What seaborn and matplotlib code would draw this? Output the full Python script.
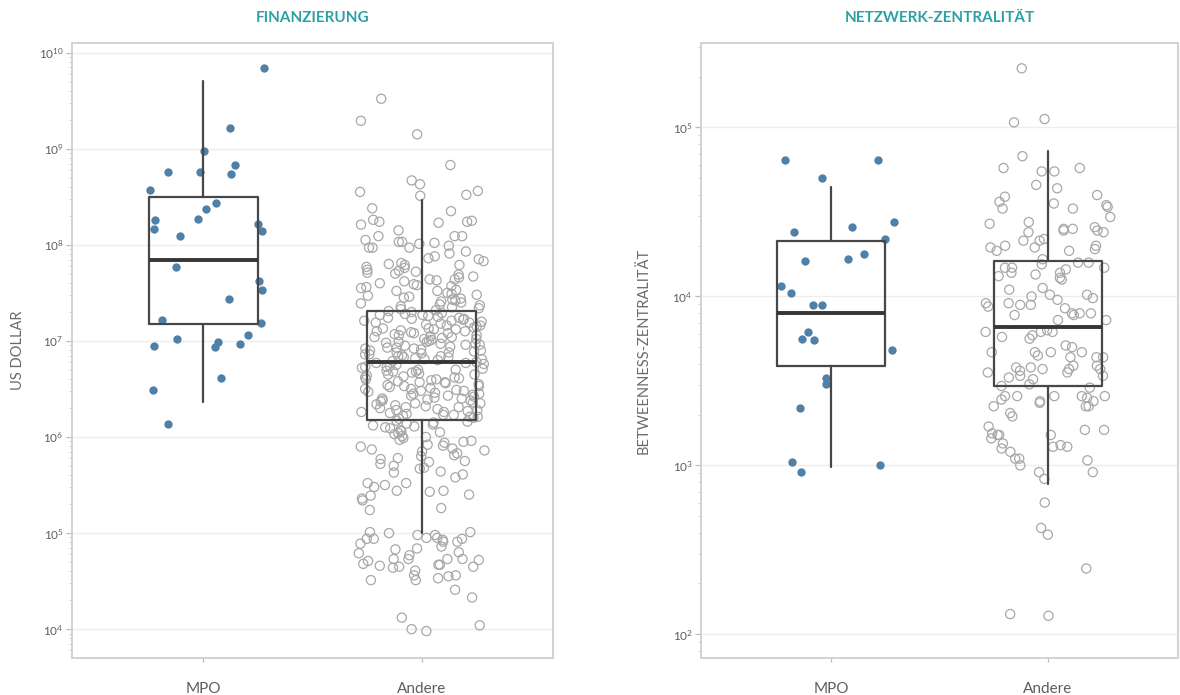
import numpy as np
import pandas as pd
import matplotlib
matplotlib.use("Agg")
import matplotlib.pyplot as plt
from matplotlib.ticker import FixedLocator
import seaborn as sns

# ---------------------------------------------------------------------------
# Data (all values as log10 of the plotted quantity)
# ---------------------------------------------------------------------------
groups = ["MPO", "Andere"]

# Funding in US dollars
finance_mpo_log10 = [
    9.84, 9.22, 8.98, 8.83, 8.76, 8.74, 8.76, 8.57, 8.44, 8.37, 8.27, 8.26,
    8.22, 8.16, 8.14, 8.09, 7.77, 7.62, 7.53, 7.44, 7.19, 7.22, 7.06, 6.99,
    7.02, 6.94, 6.95, 6.97, 6.61, 6.49, 6.14,
]
finance_other_log10 = [
    # upper tail
    9.52, 9.29, 9.15, 8.83, 8.67, 8.63, 8.55, 8.51, 8.56, 8.52, 8.35, 8.38,
    8.25, 8.24, 8.24, 8.23, 8.21, 8.26, 8.15, 8.09, 8.09, 8.09, 8.03, 8.03,
    7.97, 7.97, 7.99, 8.02, 8.05, 8.01, 7.97, 7.93, 7.91,
    # above upper quartile
    7.88, 7.86, 7.85, 7.83, 7.81, 7.80, 7.79, 7.77, 7.76, 7.74, 7.73, 7.71,
    7.70, 7.69, 7.67, 7.66, 7.64, 7.63, 7.62, 7.60, 7.59, 7.57, 7.56, 7.55,
    7.53, 7.52, 7.50, 7.49, 7.48, 7.46, 7.45, 7.44, 7.42, 7.41, 7.40, 7.38,
    7.37, 7.36, 7.35, 7.34, 7.33, 7.32, 7.79, 7.58, 7.47, 7.39, 7.64, 7.72,
    7.52, 7.43,
    # upper quartile to median
    7.30, 7.28, 7.27, 7.24, 7.23, 7.21, 7.19, 7.18, 7.16, 7.13, 7.12, 7.11,
    7.08, 7.06, 7.05, 7.03, 7.01, 6.99, 6.98, 6.96, 6.93, 6.92, 6.90, 6.88,
    6.86, 6.85, 6.83, 6.81, 6.80, 6.79, 7.29, 7.25, 7.22, 7.17, 7.14, 7.09,
    7.07, 7.02, 6.97, 6.94, 6.91, 6.87, 6.84, 6.82, 7.26, 7.20, 7.15, 7.10,
    7.04, 7.00, 6.95, 6.89, 6.84, 6.78, 7.31, 7.23, 7.16, 7.12, 7.06, 6.99,
    6.93, 6.88, 6.81, 7.27, 7.19, 7.10, 7.02, 6.96, 6.90, 6.83, 7.21, 7.13,
    7.04, 6.97, 6.86, 7.24, 7.08, 6.92,
    # median to lower quartile
    6.77, 6.76, 6.74, 6.73, 6.71, 6.70, 6.68, 6.66, 6.65, 6.63, 6.62, 6.60,
    6.58, 6.57, 6.55, 6.53, 6.52, 6.50, 6.48, 6.47, 6.45, 6.43, 6.42, 6.40,
    6.38, 6.37, 6.35, 6.33, 6.31, 6.30, 6.28, 6.26, 6.25, 6.23, 6.21, 6.19,
    6.75, 6.72, 6.67, 6.64, 6.59, 6.56, 6.51, 6.46, 6.41, 6.36, 6.32, 6.27,
    6.22, 6.77, 6.69, 6.61, 6.54, 6.49, 6.44, 6.39, 6.34, 6.29, 6.24, 6.20,
    6.73, 6.65, 6.57, 6.48, 6.40, 6.31, 6.23, 6.70, 6.60, 6.50, 6.43, 6.35,
    6.26, 6.68, 6.53, 6.38, 6.21, 6.62, 6.45, 6.28,
    # below lower quartile
    6.17, 6.15, 6.13, 6.11, 6.09, 6.07, 6.05, 6.03, 6.01, 5.99, 5.97, 5.95,
    5.92, 5.90, 5.88, 5.85, 5.83, 5.80, 5.78, 5.75, 5.72, 5.70, 5.67, 6.16,
    6.12, 6.06, 6.00, 5.94, 5.87, 5.81, 5.74, 5.68, 6.14, 6.04, 5.96, 5.86,
    5.77, 6.10, 5.91,
    # lower tail
    5.58, 5.61, 5.44, 5.50, 5.52, 5.52, 5.43, 5.40, 5.34, 5.24, 5.26, 5.44,
    5.48, 5.39, 5.36, 5.64, 5.63, 5.00, 4.93, 4.94, 4.95, 5.01, 4.94, 4.91,
    4.80, 4.84, 4.77, 4.73, 4.71, 4.73, 4.65, 4.72, 4.68, 4.79, 4.56, 4.51,
    4.41, 4.67, 4.61, 4.55, 4.98, 4.89, 4.98, 5.01, 4.91, 4.86, 4.95, 4.94,
    4.83, 4.73, 4.67, 4.73, 4.65, 4.66, 4.64, 4.56, 4.51, 4.53, 4.33, 4.12,
    4.04, 4.00, 3.98,
]

# Betweenness centrality
central_mpo_log10 = [
    4.81, 4.81, 4.70, 4.44, 4.41, 4.38, 4.34, 4.21, 4.22, 4.25, 4.06, 4.02,
    3.95, 3.95, 3.79, 3.75, 3.74, 3.68, 3.52, 3.48, 3.34, 3.02, 2.96, 3.00,
]
central_other_log10 = [
    5.35, 5.05, 5.03, 4.83, 4.74, 4.76, 4.76, 4.74, 4.66, 4.64, 4.59, 4.60,
    4.56, 4.55, 4.54, 4.52, 4.52, 4.53, 4.47, 4.44, 4.40, 4.38, 4.39, 4.41,
    4.40, 4.43, 4.38, 4.39, 4.34, 4.33, 4.33, 4.30, 4.27, 4.29, 4.30, 4.29,
    4.28, 4.27, 4.20, 4.22, 4.20, 4.19, 4.17, 4.17, 4.16, 4.17, 4.14, 4.14,
    4.13, 4.11, 4.10, 4.12, 4.04, 4.05, 4.01, 3.99, 3.98, 4.01, 4.00, 3.96,
    3.95, 3.94, 3.95, 3.93, 3.90, 3.89, 3.89, 3.90, 3.90, 3.86, 3.86, 3.79,
    3.79, 3.79, 3.96, 3.80, 3.77, 3.76, 3.75, 3.71, 3.67, 3.67, 3.67, 3.67,
    3.64, 3.64, 3.65, 3.70, 3.64, 3.55, 3.57, 3.59, 3.57, 3.59, 3.53, 3.55,
    3.56, 3.58, 3.58, 3.57, 3.53, 3.52, 3.51, 3.46, 3.47, 3.48, 3.41, 3.41,
    3.38, 3.41, 3.41, 3.37, 3.39, 3.41, 3.38, 3.40, 3.35, 3.29, 3.35, 3.35,
    3.31, 3.19, 3.11, 3.21, 3.16, 3.18, 3.13, 3.12, 3.18, 3.10, 3.11, 3.21,
    3.23, 3.18, 3.08, 3.03, 3.04, 3.04, 2.96, 2.96, 3.00, 2.92, 2.78, 2.59,
    2.63, 2.39, 2.12, 2.11,
]

# Box summaries per group (MPO, Andere): whisker low, Q1, median, Q3, whisker high
finance_whislo = [6.36, 5.00]
finance_q1 = [7.18, 6.18]
finance_med = [7.84, 6.78]
finance_q3 = [8.50, 7.31]
finance_whishi = [9.70, 8.47]

central_whislo = [2.99, 2.89]
central_q1 = [3.59, 3.47]
central_med = [3.90, 3.82]
central_q3 = [4.33, 4.21]
central_whishi = [4.65, 4.86]

finance_ylim_log10 = (3.70, 10.10)
central_ylim_log10 = (1.86, 5.50)

titles = ["FINANZIERUNG", "NETZWERK-ZENTRALITÄT"]
ylabels = ["US DOLLAR", "BETWEENNESS-ZENTRALITÄT"]

# ---------------------------------------------------------------------------
# Styling
# ---------------------------------------------------------------------------
sns.set_theme(style="white")
plt.rcParams["font.family"] = ["Lato", "DejaVu Sans"]

MPO_COLOR = "#4f80a8"
OTHER_EDGE = "#a8a8a8"
BOX_COLOR = "#474747"
TITLE_COLOR = "#2aa2a5"
TEXT_COLOR = "#6a6a6a"
FRAME_COLOR = "#d2d2d2"

np.random.seed(11)

W, H = 1180, 695
fig = plt.figure(figsize=(W / 100, H / 100), dpi=100)
ax_fin = fig.add_axes([72 / W, 1 - 658 / H, (553 - 72) / W, (658 - 43) / H])
ax_cen = fig.add_axes([701 / W, 1 - 658 / H, (1178 - 701) / W, (658 - 43) / H])


def draw_panel(ax, mpo_log, other_log, whislo, q1, med, q3, whishi,
               ylim_log, title, ylabel, label_x):
    mpo = pd.DataFrame({"gruppe": "MPO", "wert": 10 ** np.asarray(mpo_log)})
    other = pd.DataFrame({"gruppe": "Andere", "wert": 10 ** np.asarray(other_log)})

    # hollow grey circles for the other organisations
    sns.stripplot(data=other, x="gruppe", y="wert", order=groups,
                  color="white", size=6.6, jitter=0.29, log_scale=True,
                  ax=ax, zorder=2)
    coll = ax.collections[-1]
    coll.set_facecolor("none")
    coll.set_edgecolor(OTHER_EDGE)
    coll.set_linewidth(0.9)

    # filled blue dots for the MPOs
    sns.stripplot(data=mpo, x="gruppe", y="wert", order=groups,
                  color=MPO_COLOR, size=6.0, jitter=0.29, linewidth=0,
                  log_scale=True, ax=ax, zorder=2)

    stats = []
    for i, g in enumerate(groups):
        stats.append(dict(label=g,
                          whislo=10 ** whislo[i], q1=10 ** q1[i],
                          med=10 ** med[i], q3=10 ** q3[i],
                          whishi=10 ** whishi[i], fliers=[]))
    ax.bxp(stats, positions=[0, 1], widths=0.5, showfliers=False,
           showcaps=False, manage_ticks=False, zorder=3,
           boxprops=dict(color=BOX_COLOR, linewidth=1.6),
           whiskerprops=dict(color=BOX_COLOR, linewidth=1.6),
           medianprops=dict(color="#363636", linewidth=2.8, solid_capstyle="butt"))

    ax.set_xlim(-0.6, 1.6)
    ax.set_ylim(10 ** ylim_log[0], 10 ** ylim_log[1])
    decades = np.arange(np.ceil(ylim_log[0]), np.floor(ylim_log[1]) + 1)
    ax.yaxis.set_major_locator(FixedLocator(10 ** decades))
    ax.set_xticks([0, 1])
    ax.set_xticklabels(groups)
    ax.set_xlabel("")
    ax.set_ylabel(ylabel, color=TEXT_COLOR, fontsize=10.5)
    ax.yaxis.set_label_coords(label_x, 0.5)

    ax.grid(False)
    ax.yaxis.grid(True, which="major", color="#ededed", linewidth=1.0)
    ax.set_axisbelow(True)
    for s in ax.spines.values():
        s.set_visible(True)
        s.set_color(FRAME_COLOR)
        s.set_linewidth(1.4)

    ax.tick_params(axis="y", which="major", left=True, length=4, width=0.9,
                   color="#bcbcbc", labelsize=8.5, labelcolor="#5e5e5e", pad=2)
    ax.tick_params(axis="y", which="minor", left=True, length=2.5, width=0.7,
                   color="#d0d0d0")
    ax.tick_params(axis="x", bottom=True, length=3, width=0.9, color="#bcbcbc",
                   labelsize=11, labelcolor="#5e5e5e", pad=14)

    ax.set_title(title, color=TITLE_COLOR, fontsize=11, fontweight="bold",
                 pad=15)


draw_panel(ax_fin, finance_mpo_log10, finance_other_log10,
           finance_whislo, finance_q1, finance_med, finance_q3, finance_whishi,
           finance_ylim_log10, titles[0], ylabels[0], -0.098)
draw_panel(ax_cen, central_mpo_log10, central_other_log10,
           central_whislo, central_q1, central_med, central_q3, central_whishi,
           central_ylim_log10, titles[1], ylabels[1], -0.105)

fig.savefig("out.png", dpi=100, facecolor="white")
